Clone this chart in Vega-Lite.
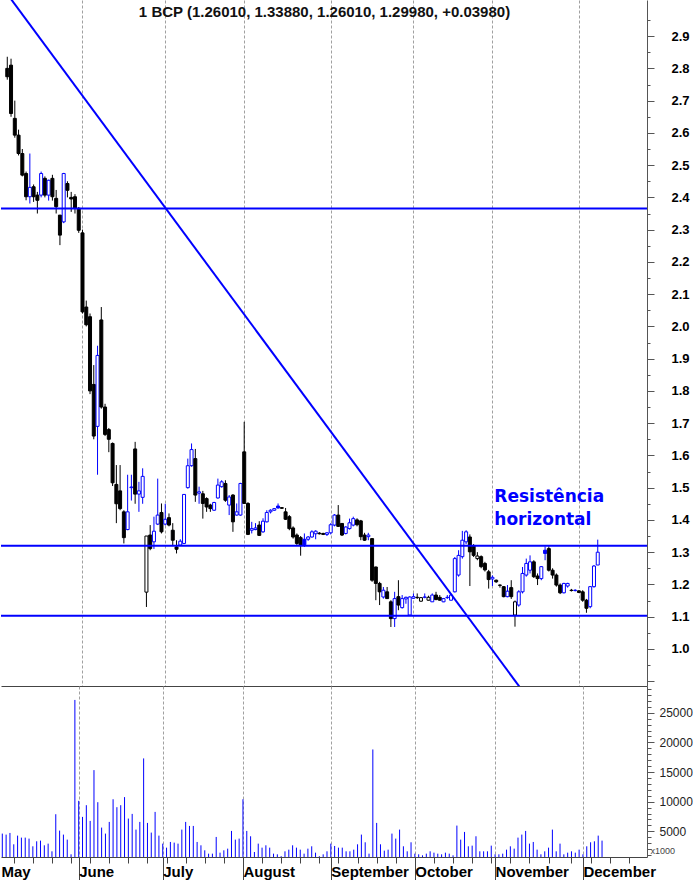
{
  "$schema": "https://vega.github.io/schema/vega-lite/v6.json",
  "padding": 0,
  "background": "#ffffff",
  "spacing": 0,
  "bounds": "flush",
  "config": {"view": {"stroke": null}, "font": "Liberation Sans", "axis": {"labelOverlap": false, "labelFlush": false}},
  "datasets": {
    "ohlc": [
      {"t":0,"o":2.80,"h":2.836,"l":2.765,"c":2.774,"v":4608},
      {"t":1,"o":2.81,"h":2.83,"l":2.65,"c":2.66,"v":4439},
      {"t":2,"o":2.645,"h":2.70,"l":2.585,"c":2.593,"v":4720},
      {"t":3,"o":2.593,"h":2.61,"l":2.53,"c":2.536,"v":2803},
      {"t":4,"o":2.536,"h":2.55,"l":2.465,"c":2.469,"v":4270},
      {"t":5,"o":2.474,"h":2.48,"l":2.391,"c":2.402,"v":3931},
      {"t":6,"o":2.402,"h":2.536,"l":2.381,"c":2.431,"v":3931},
      {"t":7,"o":2.433,"h":2.44,"l":2.386,"c":2.402,"v":3762},
      {"t":8,"o":2.407,"h":2.417,"l":2.35,"c":2.391,"v":2465},
      {"t":9,"o":2.407,"h":2.48,"l":2.40,"c":2.474,"v":3311},
      {"t":10,"o":2.459,"h":2.465,"l":2.40,"c":2.407,"v":3424},
      {"t":11,"o":2.407,"h":2.455,"l":2.39,"c":2.453,"v":2634},
      {"t":12,"o":2.459,"h":2.47,"l":2.39,"c":2.402,"v":2916},
      {"t":13,"o":2.397,"h":2.423,"l":2.35,"c":2.371,"v":1619},
      {"t":14,"o":2.345,"h":2.345,"l":2.252,"c":2.283,"v":7879},
      {"t":15,"o":2.324,"h":2.476,"l":2.32,"c":2.474,"v":5115},
      {"t":16,"o":2.443,"h":2.45,"l":2.40,"c":2.422,"v":4439},
      {"t":17,"o":2.40,"h":2.417,"l":2.355,"c":2.395,"v":3593},
      {"t":18,"o":2.402,"h":2.41,"l":2.35,"c":2.366,"v":1111},
      {"t":19,"o":2.366,"h":2.37,"l":2.29,"c":2.298,"v":27168},
      {"t":20,"o":2.29,"h":2.30,"l":2.04,"c":2.045,"v":10140},
      {"t":21,"o":2.06,"h":2.08,"l":2.0,"c":2.005,"v":7428},
      {"t":22,"o":2.03,"h":2.04,"l":1.79,"c":1.80,"v":9402},
      {"t":23,"o":1.82,"h":1.88,"l":1.65,"c":1.66,"v":6751},
      {"t":24,"o":1.69,"h":1.94,"l":1.54,"c":1.91,"v":15324},
      {"t":25,"o":2.02,"h":2.06,"l":1.745,"c":1.75,"v":9910},
      {"t":26,"o":1.75,"h":1.76,"l":1.66,"c":1.665,"v":5623},
      {"t":27,"o":1.68,"h":1.685,"l":1.61,"c":1.65,"v":4608},
      {"t":28,"o":1.637,"h":1.64,"l":1.505,"c":1.515,"v":6582},
      {"t":29,"o":1.51,"h":1.57,"l":1.39,"c":1.45,"v":10405},
      {"t":30,"o":1.49,"h":1.57,"l":1.43,"c":1.435,"v":9066},
      {"t":31,"o":1.425,"h":1.43,"l":1.327,"c":1.345,"v":9402},
      {"t":32,"o":1.37,"h":1.54,"l":1.368,"c":1.425,"v":10768},
      {"t":33,"o":1.50,"h":1.54,"l":1.46,"c":1.502,"v":7146},
      {"t":34,"o":1.62,"h":1.642,"l":1.45,"c":1.48,"v":7935},
      {"t":35,"o":1.48,"h":1.518,"l":1.425,"c":1.49,"v":5285},
      {"t":36,"o":1.47,"h":1.56,"l":1.45,"c":1.535,"v":6582},
      {"t":37,"o":1.176,"h":1.35,"l":1.13,"c":1.35,"v":17298},
      {"t":38,"o":1.353,"h":1.384,"l":1.306,"c":1.311,"v":6413},
      {"t":39,"o":1.332,"h":1.41,"l":1.31,"c":1.365,"v":4777},
      {"t":40,"o":1.387,"h":1.528,"l":1.384,"c":1.415,"v":8273},
      {"t":41,"o":1.423,"h":1.451,"l":1.358,"c":1.363,"v":4270},
      {"t":42,"o":1.387,"h":1.45,"l":1.383,"c":1.402,"v":2916},
      {"t":43,"o":1.407,"h":1.42,"l":1.38,"c":1.384,"v":2239},
      {"t":44,"o":1.368,"h":1.39,"l":1.32,"c":1.337,"v":3198},
      {"t":45,"o":1.316,"h":1.337,"l":1.296,"c":1.309,"v":3085},
      {"t":46,"o":1.322,"h":1.34,"l":1.32,"c":1.334,"v":2916},
      {"t":47,"o":1.327,"h":1.48,"l":1.325,"c":1.479,"v":5285},
      {"t":48,"o":1.50,"h":1.59,"l":1.497,"c":1.568,"v":6582},
      {"t":49,"o":1.568,"h":1.637,"l":1.565,"c":1.618,"v":5905},
      {"t":50,"o":1.59,"h":1.62,"l":1.456,"c":1.477,"v":5905},
      {"t":51,"o":1.483,"h":1.503,"l":1.45,"c":1.487,"v":3198},
      {"t":52,"o":1.481,"h":1.49,"l":1.404,"c":1.451,"v":2634},
      {"t":53,"o":1.466,"h":1.47,"l":1.425,"c":1.44,"v":1788},
      {"t":54,"o":1.446,"h":1.45,"l":1.425,"c":1.435,"v":1224},
      {"t":55,"o":1.43,"h":1.456,"l":1.428,"c":1.454,"v":1224},
      {"t":56,"o":1.468,"h":1.528,"l":1.466,"c":1.508,"v":4044},
      {"t":57,"o":1.503,"h":1.523,"l":1.50,"c":1.518,"v":1393},
      {"t":58,"o":1.513,"h":1.523,"l":1.456,"c":1.461,"v":1788},
      {"t":59,"o":1.446,"h":1.477,"l":1.415,"c":1.471,"v":2070},
      {"t":60,"o":1.477,"h":1.48,"l":1.363,"c":1.394,"v":5059},
      {"t":61,"o":1.415,"h":1.451,"l":1.413,"c":1.425,"v":3593},
      {"t":62,"o":1.415,"h":1.515,"l":1.413,"c":1.513,"v":3762},
      {"t":63,"o":1.611,"h":1.704,"l":1.45,"c":1.451,"v":10405},
      {"t":64,"o":1.451,"h":1.455,"l":1.353,"c":1.355,"v":5059},
      {"t":65,"o":1.368,"h":1.394,"l":1.358,"c":1.373,"v":4157},
      {"t":66,"o":1.37,"h":1.39,"l":1.368,"c":1.375,"v":1506},
      {"t":67,"o":1.384,"h":1.396,"l":1.35,"c":1.352,"v":2916},
      {"t":68,"o":1.363,"h":1.405,"l":1.36,"c":1.396,"v":2239},
      {"t":69,"o":1.394,"h":1.43,"l":1.392,"c":1.423,"v":2634},
      {"t":70,"o":1.425,"h":1.433,"l":1.42,"c":1.43,"v":2239},
      {"t":71,"o":1.43,"h":1.437,"l":1.428,"c":1.435,"v":1224},
      {"t":72,"o":1.443,"h":1.451,"l":1.435,"c":1.437,"v":1111},
      {"t":73,"o":1.438,"h":1.44,"l":1.434,"c":1.436,"v":800},
      {"t":74,"o":1.425,"h":1.437,"l":1.40,"c":1.402,"v":1619},
      {"t":75,"o":1.41,"h":1.415,"l":1.368,"c":1.373,"v":1901},
      {"t":76,"o":1.375,"h":1.38,"l":1.342,"c":1.347,"v":2634},
      {"t":77,"o":1.353,"h":1.358,"l":1.322,"c":1.327,"v":2239},
      {"t":78,"o":1.345,"h":1.35,"l":1.289,"c":1.322,"v":1901},
      {"t":79,"o":1.34,"h":1.358,"l":1.316,"c":1.323,"v":1224},
      {"t":80,"o":1.34,"h":1.35,"l":1.335,"c":1.347,"v":2070},
      {"t":81,"o":1.347,"h":1.368,"l":1.345,"c":1.363,"v":2465},
      {"t":82,"o":1.357,"h":1.368,"l":1.34,"c":1.365,"v":1393},
      {"t":83,"o":1.359,"h":1.362,"l":1.355,"c":1.357,"v":800},
      {"t":84,"o":1.358,"h":1.36,"l":1.353,"c":1.355,"v":1111},
      {"t":85,"o":1.355,"h":1.362,"l":1.35,"c":1.36,"v":1619},
      {"t":86,"o":1.36,"h":1.39,"l":1.355,"c":1.385,"v":2916},
      {"t":87,"o":1.384,"h":1.418,"l":1.38,"c":1.415,"v":2521},
      {"t":88,"o":1.415,"h":1.446,"l":1.378,"c":1.38,"v":2239},
      {"t":89,"o":1.389,"h":1.39,"l":1.35,"c":1.353,"v":2239},
      {"t":90,"o":1.358,"h":1.38,"l":1.355,"c":1.378,"v":1619},
      {"t":91,"o":1.373,"h":1.404,"l":1.37,"c":1.391,"v":1619},
      {"t":92,"o":1.384,"h":1.41,"l":1.38,"c":1.404,"v":1901},
      {"t":93,"o":1.40,"h":1.405,"l":1.38,"c":1.385,"v":2803},
      {"t":94,"o":1.397,"h":1.40,"l":1.337,"c":1.348,"v":4439},
      {"t":95,"o":1.353,"h":1.36,"l":1.335,"c":1.337,"v":3142},
      {"t":96,"o":1.348,"h":1.36,"l":1.337,"c":1.353,"v":1224},
      {"t":97,"o":1.342,"h":1.343,"l":1.208,"c":1.213,"v":18810},
      {"t":98,"o":1.254,"h":1.255,"l":1.151,"c":1.203,"v":6413},
      {"t":99,"o":1.203,"h":1.208,"l":1.136,"c":1.177,"v":2803},
      {"t":100,"o":1.161,"h":1.192,"l":1.156,"c":1.182,"v":1731},
      {"t":101,"o":1.177,"h":1.192,"l":1.155,"c":1.156,"v":1901},
      {"t":102,"o":1.146,"h":1.151,"l":1.068,"c":1.094,"v":4608},
      {"t":103,"o":1.094,"h":1.177,"l":1.068,"c":1.156,"v":3762},
      {"t":104,"o":1.162,"h":1.213,"l":1.12,"c":1.136,"v":5285},
      {"t":105,"o":1.128,"h":1.167,"l":1.125,"c":1.156,"v":2465},
      {"t":106,"o":1.155,"h":1.162,"l":1.14,"c":1.16,"v":1619},
      {"t":107,"o":1.105,"h":1.163,"l":1.105,"c":1.161,"v":3142},
      {"t":108,"o":1.157,"h":1.172,"l":1.155,"c":1.162,"v":1224},
      {"t":109,"o":1.159,"h":1.172,"l":1.155,"c":1.16,"v":1111},
      {"t":110,"o":1.148,"h":1.16,"l":1.146,"c":1.159,"v":942},
      {"t":111,"o":1.16,"h":1.172,"l":1.157,"c":1.161,"v":1224},
      {"t":112,"o":1.151,"h":1.165,"l":1.15,"c":1.16,"v":1619},
      {"t":113,"o":1.146,"h":1.172,"l":1.146,"c":1.167,"v":1393},
      {"t":114,"o":1.167,"h":1.177,"l":1.151,"c":1.153,"v":1224},
      {"t":115,"o":1.16,"h":1.167,"l":1.15,"c":1.151,"v":1111},
      {"t":116,"o":1.146,"h":1.158,"l":1.145,"c":1.156,"v":1393},
      {"t":117,"o":1.159,"h":1.167,"l":1.155,"c":1.16,"v":1224},
      {"t":118,"o":1.151,"h":1.172,"l":1.15,"c":1.167,"v":942},
      {"t":119,"o":1.177,"h":1.285,"l":1.175,"c":1.28,"v":5961},
      {"t":120,"o":1.229,"h":1.306,"l":1.224,"c":1.29,"v":3593},
      {"t":121,"o":1.286,"h":1.366,"l":1.28,"c":1.337,"v":4890},
      {"t":122,"o":1.332,"h":1.368,"l":1.325,"c":1.363,"v":2465},
      {"t":123,"o":1.347,"h":1.355,"l":1.195,"c":1.301,"v":2577},
      {"t":124,"o":1.32,"h":1.325,"l":1.285,"c":1.29,"v":4157},
      {"t":125,"o":1.28,"h":1.30,"l":1.275,"c":1.288,"v":1619},
      {"t":126,"o":1.286,"h":1.29,"l":1.25,"c":1.255,"v":1619},
      {"t":127,"o":1.265,"h":1.27,"l":1.24,"c":1.245,"v":1619},
      {"t":128,"o":1.239,"h":1.245,"l":1.187,"c":1.215,"v":2577},
      {"t":129,"o":1.217,"h":1.228,"l":1.195,"c":1.222,"v":1111},
      {"t":130,"o":1.213,"h":1.215,"l":1.205,"c":1.208,"v":1111},
      {"t":131,"o":1.198,"h":1.20,"l":1.19,"c":1.197,"v":1224},
      {"t":132,"o":1.193,"h":1.195,"l":1.16,"c":1.162,"v":1901},
      {"t":133,"o":1.162,"h":1.198,"l":1.16,"c":1.179,"v":2465},
      {"t":134,"o":1.19,"h":1.213,"l":1.155,"c":1.162,"v":2070},
      {"t":135,"o":1.105,"h":1.15,"l":1.069,"c":1.146,"v":3931},
      {"t":136,"o":1.136,"h":1.182,"l":1.131,"c":1.177,"v":4439},
      {"t":137,"o":1.177,"h":1.254,"l":1.172,"c":1.234,"v":5059},
      {"t":138,"o":1.229,"h":1.28,"l":1.224,"c":1.265,"v":2916},
      {"t":139,"o":1.244,"h":1.29,"l":1.234,"c":1.27,"v":3198},
      {"t":140,"o":1.27,"h":1.275,"l":1.22,"c":1.224,"v":1901},
      {"t":141,"o":1.226,"h":1.234,"l":1.198,"c":1.218,"v":1111},
      {"t":142,"o":1.218,"h":1.257,"l":1.213,"c":1.255,"v":1619},
      {"t":143,"o":1.306,"h":1.318,"l":1.275,"c":1.296,"v":2239},
      {"t":144,"o":1.311,"h":1.318,"l":1.24,"c":1.244,"v":5285},
      {"t":145,"o":1.244,"h":1.25,"l":1.218,"c":1.229,"v":1619},
      {"t":146,"o":1.229,"h":1.234,"l":1.193,"c":1.198,"v":2916},
      {"t":147,"o":1.198,"h":1.203,"l":1.17,"c":1.174,"v":1111},
      {"t":148,"o":1.174,"h":1.205,"l":1.172,"c":1.203,"v":1393},
      {"t":149,"o":1.195,"h":1.205,"l":1.19,"c":1.203,"v":1619},
      {"t":150,"o":1.181,"h":1.186,"l":1.178,"c":1.182,"v":1393},
      {"t":151,"o":1.181,"h":1.185,"l":1.178,"c":1.182,"v":1901},
      {"t":152,"o":1.18,"h":1.182,"l":1.173,"c":1.175,"v":1111},
      {"t":153,"o":1.177,"h":1.182,"l":1.146,"c":1.151,"v":2465},
      {"t":154,"o":1.151,"h":1.155,"l":1.112,"c":1.126,"v":3142},
      {"t":155,"o":1.131,"h":1.195,"l":1.126,"c":1.193,"v":3311},
      {"t":156,"o":1.193,"h":1.26,"l":1.19,"c":1.257,"v":4270},
      {"t":157,"o":1.2601,"h":1.3388,"l":1.2601,"c":1.2998,"v":3424}
    ],
    "levels": [{"p": 2.3657}, {"p": 1.32}, {"p": 1.1025}],
    "trend": [{"t": -2, "p": 3.062}, {"t": 140, "p": 0.8226}]
  },
  "vconcat": [
    {
      "width": 646,
      "height": 686,
      "layer": [
        {
          "data": {"name": "ohlc"},
          "transform": [{"window": [{"op": "lag", "field": "c", "as": "pc"}], "sort": [{"field": "t", "order": "ascending"}]}],
          "mark": {"type": "rule", "strokeWidth": 1, "clip": true},
          "encoding": {
            "x": {
              "field": "t", "type": "quantitative",
              "scale": {"domain": [-0.34, 168.77], "nice": false, "zero": false},
              "axis": {"orient": "bottom", "title": null, "values": [20, 42, 63, 86, 108, 129, 152], "labels": false, "ticks": false, "domain": true, "domainColor": "#444444", "domainWidth": 1, "grid": true, "gridColor": "#a0a0a0", "gridDash": [3, 2], "gridWidth": 1}
            },
            "y": {
              "field": "l", "type": "quantitative",
              "scale": {"domain": [0.885, 3.012], "nice": false, "zero": false},
              "axis": {"orient": "right", "title": null, "grid": false, "values": [0.9,0.95,1,1.05,1.1,1.15,1.2,1.25,1.3,1.35,1.4,1.45,1.5,1.55,1.6,1.65,1.7,1.75,1.8,1.85,1.9,1.95,2,2.05,2.1,2.15,2.2,2.25,2.3,2.35,2.4,2.45,2.5,2.55,2.6,2.65,2.7,2.75,2.8,2.85,2.9,2.95], "domain": true, "domainColor": "#555555", "domainWidth": 1, "tickColor": "#555555", "tickSize": {"condition": {"test": "abs(datum.value*10 - round(datum.value*10)) < 0.01", "value": 7}, "value": 3}, "labelExpr": "abs(datum.value*10 - round(datum.value*10)) < 0.01 && datum.value > 0.95 && datum.value < 2.95 ? format(datum.value, '.1f') : ''", "labelFont": "Liberation Sans", "labelFontSize": 13, "labelFontWeight": "bold", "labelColor": "#000000", "labelPadding": 17, "labelAlign": "left", "labelBaseline": "middle", "labelOverlap": false, "labelFlush": false}
            },
            "y2": {"field": "h"},
            "color": {"condition": {"test": "isValid(datum.pc) && datum.c >= datum.pc", "value": "#0000ff"}, "value": "#000000"}
          }
        },
        {
          "data": {"name": "ohlc"},
          "transform": [{"window": [{"op": "lag", "field": "c", "as": "pc"}], "sort": [{"field": "t", "order": "ascending"}]}],
          "mark": {"type": "bar", "size": 3, "strokeWidth": 1, "clip": true},
          "encoding": {
            "x": {"field": "t", "type": "quantitative",
              "axis": {"orient": "bottom", "title": null, "values": [20, 42, 63, 86, 108, 129, 152], "labels": false, "ticks": false, "domain": true, "domainColor": "#444444", "domainWidth": 1, "grid": true, "gridColor": "#a0a0a0", "gridDash": [3, 2], "gridWidth": 1}},
            "y": {"field": "o", "type": "quantitative",
              "axis": {"orient": "right", "title": null, "grid": false, "values": [0.9,0.95,1,1.05,1.1,1.15,1.2,1.25,1.3,1.35,1.4,1.45,1.5,1.55,1.6,1.65,1.7,1.75,1.8,1.85,1.9,1.95,2,2.05,2.1,2.15,2.2,2.25,2.3,2.35,2.4,2.45,2.5,2.55,2.6,2.65,2.7,2.75,2.8,2.85,2.9,2.95], "domain": true, "domainColor": "#555555", "domainWidth": 1, "tickColor": "#555555", "tickSize": {"condition": {"test": "abs(datum.value*10 - round(datum.value*10)) < 0.01", "value": 7}, "value": 3}, "labelExpr": "abs(datum.value*10 - round(datum.value*10)) < 0.01 && datum.value > 0.95 && datum.value < 2.95 ? format(datum.value, '.1f') : ''", "labelFont": "Liberation Sans", "labelFontSize": 13, "labelFontWeight": "bold", "labelColor": "#000000", "labelPadding": 17, "labelAlign": "left", "labelBaseline": "middle", "labelOverlap": false, "labelFlush": false}},
            "y2": {"field": "c"},
            "stroke": {"condition": {"test": "isValid(datum.pc) && datum.c >= datum.pc", "value": "#0000ff"}, "value": "#000000"},
            "fill": {"condition": [{"test": "datum.c >= datum.o", "value": "#ffffff"}, {"test": "isValid(datum.pc) && datum.c >= datum.pc", "value": "#0000ff"}], "value": "#000000"}
          }
        },
        {
          "data": {"name": "levels"},
          "mark": {"type": "rule", "color": "#0000ff", "strokeWidth": 2},
          "encoding": {
            "y": {"field": "p", "type": "quantitative",
              "axis": {"orient": "right", "title": null, "grid": false, "values": [0.9,0.95,1,1.05,1.1,1.15,1.2,1.25,1.3,1.35,1.4,1.45,1.5,1.55,1.6,1.65,1.7,1.75,1.8,1.85,1.9,1.95,2,2.05,2.1,2.15,2.2,2.25,2.3,2.35,2.4,2.45,2.5,2.55,2.6,2.65,2.7,2.75,2.8,2.85,2.9,2.95], "domain": true, "domainColor": "#555555", "domainWidth": 1, "tickColor": "#555555", "tickSize": {"condition": {"test": "abs(datum.value*10 - round(datum.value*10)) < 0.01", "value": 7}, "value": 3}, "labelExpr": "abs(datum.value*10 - round(datum.value*10)) < 0.01 && datum.value > 0.95 && datum.value < 2.95 ? format(datum.value, '.1f') : ''", "labelFont": "Liberation Sans", "labelFontSize": 13, "labelFontWeight": "bold", "labelColor": "#000000", "labelPadding": 17, "labelAlign": "left", "labelBaseline": "middle", "labelOverlap": false, "labelFlush": false}}
          }
        },
        {
          "data": {"name": "trend"},
          "mark": {"type": "line", "color": "#0000ff", "strokeWidth": 2, "clip": true},
          "encoding": {
            "x": {"field": "t", "type": "quantitative",
              "axis": {"orient": "bottom", "title": null, "values": [20, 42, 63, 86, 108, 129, 152], "labels": false, "ticks": false, "domain": true, "domainColor": "#444444", "domainWidth": 1, "grid": true, "gridColor": "#a0a0a0", "gridDash": [3, 2], "gridWidth": 1}},
            "y": {"field": "p", "type": "quantitative",
              "axis": {"orient": "right", "title": null, "grid": false, "values": [0.9,0.95,1,1.05,1.1,1.15,1.2,1.25,1.3,1.35,1.4,1.45,1.5,1.55,1.6,1.65,1.7,1.75,1.8,1.85,1.9,1.95,2,2.05,2.1,2.15,2.2,2.25,2.3,2.35,2.4,2.45,2.5,2.55,2.6,2.65,2.7,2.75,2.8,2.85,2.9,2.95], "domain": true, "domainColor": "#555555", "domainWidth": 1, "tickColor": "#555555", "tickSize": {"condition": {"test": "abs(datum.value*10 - round(datum.value*10)) < 0.01", "value": 7}, "value": 3}, "labelExpr": "abs(datum.value*10 - round(datum.value*10)) < 0.01 && datum.value > 0.95 && datum.value < 2.95 ? format(datum.value, '.1f') : ''", "labelFont": "Liberation Sans", "labelFontSize": 13, "labelFontWeight": "bold", "labelColor": "#000000", "labelPadding": 17, "labelAlign": "left", "labelBaseline": "middle", "labelOverlap": false, "labelFlush": false}}
          }
        },
        {
          "data": {"values": [{"label": "1 BCP (1.26010, 1.33880, 1.26010, 1.29980, +0.03980)"}]},
          "mark": {"type": "text", "font": "Liberation Sans", "fontSize": 15, "fontWeight": "bold", "color": "#111111", "align": "center", "baseline": "alphabetic"},
          "encoding": {
            "text": {"field": "label"},
            "x": {"datum": 84.35, "type": "quantitative",
              "axis": {"orient": "bottom", "title": null, "values": [20, 42, 63, 86, 108, 129, 152], "labels": false, "ticks": false, "domain": true, "domainColor": "#444444", "domainWidth": 1, "grid": true, "gridColor": "#a0a0a0", "gridDash": [3, 2], "gridWidth": 1}},
            "y": {"datum": 2.958, "type": "quantitative",
              "axis": {"orient": "right", "title": null, "grid": false, "values": [0.9,0.95,1,1.05,1.1,1.15,1.2,1.25,1.3,1.35,1.4,1.45,1.5,1.55,1.6,1.65,1.7,1.75,1.8,1.85,1.9,1.95,2,2.05,2.1,2.15,2.2,2.25,2.3,2.35,2.4,2.45,2.5,2.55,2.6,2.65,2.7,2.75,2.8,2.85,2.9,2.95], "domain": true, "domainColor": "#555555", "domainWidth": 1, "tickColor": "#555555", "tickSize": {"condition": {"test": "abs(datum.value*10 - round(datum.value*10)) < 0.01", "value": 7}, "value": 3}, "labelExpr": "abs(datum.value*10 - round(datum.value*10)) < 0.01 && datum.value > 0.95 && datum.value < 2.95 ? format(datum.value, '.1f') : ''", "labelFont": "Liberation Sans", "labelFontSize": 13, "labelFontWeight": "bold", "labelColor": "#000000", "labelPadding": 17, "labelAlign": "left", "labelBaseline": "middle", "labelOverlap": false, "labelFlush": false}}
          }
        },
        {
          "data": {"values": [{"label": "Resistência\nhorizontal"}]},
          "mark": {"type": "text", "font": "DejaVu Sans", "fontSize": 17, "fontWeight": "bold", "color": "#0000ff", "align": "left", "baseline": "alphabetic", "lineHeight": 23, "lineBreak": "\n"},
          "encoding": {
            "text": {"field": "label"},
            "x": {"datum": 129.5, "type": "quantitative",
              "axis": {"orient": "bottom", "title": null, "values": [20, 42, 63, 86, 108, 129, 152], "labels": false, "ticks": false, "domain": true, "domainColor": "#444444", "domainWidth": 1, "grid": true, "gridColor": "#a0a0a0", "gridDash": [3, 2], "gridWidth": 1}},
            "y": {"datum": 1.456, "type": "quantitative",
              "axis": {"orient": "right", "title": null, "grid": false, "values": [0.9,0.95,1,1.05,1.1,1.15,1.2,1.25,1.3,1.35,1.4,1.45,1.5,1.55,1.6,1.65,1.7,1.75,1.8,1.85,1.9,1.95,2,2.05,2.1,2.15,2.2,2.25,2.3,2.35,2.4,2.45,2.5,2.55,2.6,2.65,2.7,2.75,2.8,2.85,2.9,2.95], "domain": true, "domainColor": "#555555", "domainWidth": 1, "tickColor": "#555555", "tickSize": {"condition": {"test": "abs(datum.value*10 - round(datum.value*10)) < 0.01", "value": 7}, "value": 3}, "labelExpr": "abs(datum.value*10 - round(datum.value*10)) < 0.01 && datum.value > 0.95 && datum.value < 2.95 ? format(datum.value, '.1f') : ''", "labelFont": "Liberation Sans", "labelFontSize": 13, "labelFontWeight": "bold", "labelColor": "#000000", "labelPadding": 17, "labelAlign": "left", "labelBaseline": "middle", "labelOverlap": false, "labelFlush": false}}
          }
        }
      ]
    },
    {
      "width": 646,
      "height": 171,
      "data": {"name": "ohlc"},
      "mark": {"type": "rule", "color": "#0000ff", "strokeWidth": 1},
      "encoding": {
        "x": {
          "field": "t", "type": "quantitative",
          "scale": {"domain": [-0.34, 168.77], "nice": false, "zero": false},
          "axis": {
            "orient": "bottom", "title": null,
            "values": [-0.34, 3, 8, 13, 18, 20, 23, 28, 33, 38, 42, 43, 48, 53, 58, 63, 68, 73, 78, 83, 86, 88, 93, 98, 103, 108, 113, 118, 123, 128, 129, 133, 138, 143, 149, 152, 154, 159, 164],
            "domain": true, "domainColor": "#444444", "domainWidth": 1,
            "grid": true, "gridColor": "#a0a0a0", "gridDash": [3, 2], "gridWidth": 1,
            "gridOpacity": {"condition": {"test": "indexof([20,42,63,86,108,129,152], datum.value) >= 0", "value": 1}, "value": 0},
            "ticks": true, "tickColor": "#444444",
            "tickSize": {"condition": {"test": "indexof([20,42,63,86,108,129,152], datum.value) >= 0 || datum.value < 0", "value": 23}, "value": 6},
            "tickOpacity": {"condition": {"test": "datum.value < 0", "value": 0}, "value": 1},
            "labelExpr": "datum.value < 0 ? 'May' : datum.value == 20 ? 'June' : datum.value == 42 ? 'July' : datum.value == 63 ? 'August' : datum.value == 86 ? 'September' : datum.value == 108 ? 'October' : datum.value == 129 ? 'November' : datum.value == 152 ? 'December' : ''",
            "labelAlign": "left", "labelBaseline": "alphabetic", "labelPadding": -3.3, "labelDx": 1,
            "labelFont": "Liberation Sans", "labelFontSize": 15, "labelFontWeight": "bold", "labelColor": "#000000",
            "labelFlush": false, "labelOverlap": false
          }
        },
        "y": {
          "field": "v", "type": "quantitative",
          "scale": {"domain": [660, 29520], "nice": false, "zero": false},
          "axis": {
            "orient": "right", "title": "x1000", "grid": false,
            "values": [1000,2000,3000,4000,5000,6000,7000,8000,9000,10000,11000,12000,13000,14000,15000,16000,17000,18000,19000,20000,21000,22000,23000,24000,25000,26000,27000,28000,29000],
            "domain": true, "domainColor": "#555555", "domainWidth": 1,
            "tickColor": "#555555",
            "tickSize": {"condition": {"test": "datum.value % 5000 == 0", "value": 7}, "value": 4},
            "labelExpr": "datum.value % 5000 == 0 ? '' + datum.value : ''",
            "labelFont": "Liberation Sans", "labelFontSize": 12, "labelColor": "#222222",
            "labelPadding": 5, "labelAlign": "left", "labelBaseline": "middle",
            "labelOverlap": false, "labelFlush": false,
            "titleAngle": 0, "titleFont": "Liberation Sans", "titleFontSize": 9, "titleFontWeight": "normal", "titleColor": "#444444",
            "titleX": 3, "titleY": 169, "titleAlign": "left", "titleBaseline": "bottom"
          }
        },
        "y2": {"datum": 660}
      }
    }
  ]
}
